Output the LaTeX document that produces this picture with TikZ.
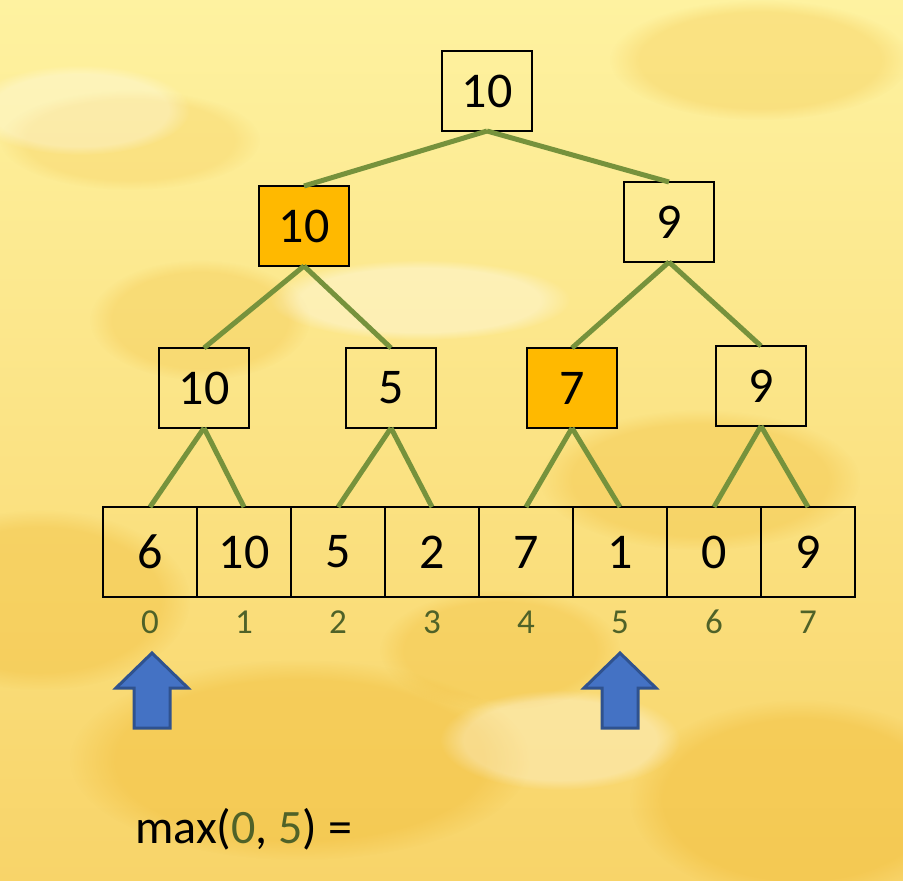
\documentclass[tikz,border=0pt]{standalone}
\usepackage{fontspec}
\setmainfont{Carlito}
\usepackage{tikz}
\usetikzlibrary{positioning,calc,fadings}
\definecolor{edgegreen}{RGB}{118,146,60}
\definecolor{idxgreen}{RGB}{79,98,40}
\definecolor{hlorange}{RGB}{255,185,0}
\definecolor{ptrfill}{RGB}{68,114,196}
\definecolor{ptrdraw}{RGB}{47,82,143}
\definecolor{paleyellow}{RGB}{254,242,160}
\definecolor{deepyellow}{RGB}{248,212,105}
\definecolor{blotch}{RGB}{240,185,50}
\tikzset{box/.style={draw=black,line width=2.5pt,outer sep=0pt,inner sep=0pt,minimum width=90pt,minimum height=80pt,font=\fontsize{50}{54}\selectfont},
  cell/.style={box,minimum width=94pt,minimum height=90pt},
  hl/.style={fill=hlorange},
  idx/.style={inner sep=0pt,text=idxgreen,font=\fontsize{35}{38}\selectfont},
  tree/.style={every edge/.style={draw=edgegreen,line width=5pt}},
  ptr/.style={fill=ptrfill,draw=ptrdraw,line width=3pt,line join=miter},
  blob/.style={fill=blotch,opacity=#1,path fading=circle with fuzzy edge 20 percent},
  glow/.style={fill=white,opacity=#1,path fading=circle with fuzzy edge 20 percent}}

\begin{document}
\begin{tikzpicture}[x=1pt, y=-1pt]
    \useasboundingbox (0,0) rectangle (903,881);
    % background
    \shade[top color=paleyellow, bottom color=deepyellow] (0,0) rectangle (903,881);
    \fill[blob=0.35] (40,600) ellipse (150 and 90);
    \fill[blob=0.25] (200,320) ellipse (110 and 60);
    \fill[blob=0.3] (700,480) ellipse (160 and 70);
    \fill[blob=0.4] (300,760) ellipse (230 and 100);
    \fill[blob=0.4] (800,800) ellipse (170 and 100);
    \fill[blob=0.25] (760,60) ellipse (150 and 60);
    \fill[blob=0.2] (130,140) ellipse (130 and 50);
    \fill[blob=0.3] (500,650) ellipse (120 and 60);
    \fill[glow=0.35] (420,300) ellipse (150 and 40);
    \fill[glow=0.3] (80,110) ellipse (110 and 45);
    \fill[glow=0.3] (560,740) ellipse (120 and 50);

    % tree
    \node[box] (A) at (487,91) {10};
    \node[box,hl] (B) at (304,226) {10};
    \node[box] (C) at (669,222) {9};
    \node[box] (D) at (204,388) {10};
    \node[box] (E) at (391,388) {5};
    \node[box,hl] (F) at (572,388) {7};
    \node[box] (G) at (761,386) {9};

    % array
    \node[cell] (H) at (150,552) {6};
    \node[cell, right=0pt of H] (I) {10};
    \node[cell, right=0pt of I] (J) {5};
    \node[cell, right=0pt of J] (K) {2};
    \node[cell, right=0pt of K] (L) {7};
    \node[cell, right=0pt of L] (M) {1};
    \node[cell, right=0pt of M] (N) {0};
    \node[cell, right=0pt of N] (O) {9};

    \node[idx] (i0) at (H.south |- 0,622) {0};
    \node[idx] (i1) at (I.south |- 0,622) {1};
    \node[idx] (i2) at (J.south |- 0,622) {2};
    \node[idx] (i3) at (K.south |- 0,622) {3};
    \node[idx] (i4) at (L.south |- 0,622) {4};
    \node[idx] (i5) at (M.south |- 0,622) {5};
    \node[idx] (i6) at (N.south |- 0,622) {6};
    \node[idx] (i7) at (O.south |- 0,622) {7};

    \path[tree] (A.south) edge (B.north);
    \path[tree] (A.south) edge (C.north);
    \path[tree] (B.south) edge (D.north);
    \path[tree] (B.south) edge (E.north);
    \path[tree] (C.south) edge (F.north);
    \path[tree] (C.south) edge (G.north);
    \path[tree] (D.south) edge (H.north);
    \path[tree] (D.south) edge (I.north);
    \path[tree] (E.south) edge (J.north);
    \path[tree] (E.south) edge (K.north);
    \path[tree] (F.south) edge (L.north);
    \path[tree] (F.south) edge (M.north);
    \path[tree] (G.south) edge (N.north);
    \path[tree] (G.south) edge (O.north);

    % pointers
    \coordinate (p0) at (152,653);
    \coordinate (p1) at (620,653);
    \draw[ptr] (p0) -- ++(36,35) -- ++(-18,0) -- ++(0,40) -- ++(-36,0) -- ++(0,-40) -- ++(-18,0) -- cycle;
    \draw[ptr] (p1) -- ++(36,35) -- ++(-18,0) -- ++(0,40) -- ++(-36,0) -- ++(0,-40) -- ++(-18,0) -- cycle;

    \node[anchor=base west, inner sep=0pt, font=\fontsize{48}{52}\selectfont] (q) at (135,843)
        {max(\textcolor{idxgreen}{0}, \textcolor{idxgreen}{5}) =};
\end{tikzpicture}
\end{document}
